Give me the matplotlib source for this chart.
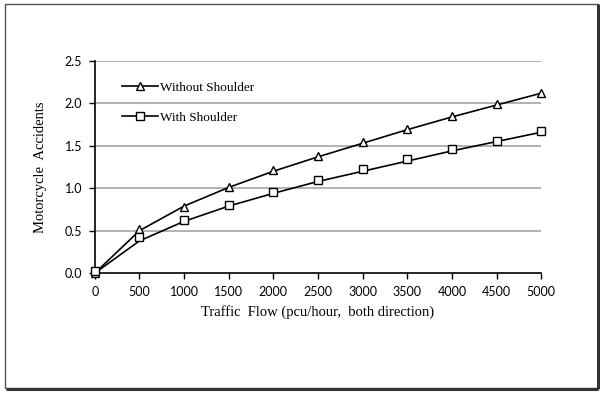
import matplotlib
matplotlib.use("Agg")
import matplotlib.pyplot as plt
from matplotlib.patches import Rectangle

flow = [0, 500, 1000, 1500, 2000, 2500, 3000, 3500, 4000, 4500, 5000]
without_pts = [0.0, 0.52, 0.78, 1.01, 1.21, 1.38, 1.54, 1.70, 1.85, 1.99, 2.12]
with_pts = [0.03, 0.42, 0.63, 0.80, 0.96, 1.10, 1.23, 1.35, 1.46, 1.56, 1.67]
without_fit = [0.0, 0.50, 0.79, 1.01, 1.20, 1.37, 1.53, 1.69, 1.84, 1.98, 2.12]
with_fit = [0.0, 0.38, 0.61, 0.79, 0.94, 1.08, 1.20, 1.32, 1.44, 1.55, 1.66]
yticks = [0.0, 0.5, 1.0, 1.5, 2.0, 2.5]
xticks = [0, 500, 1000, 1500, 2000, 2500, 3000, 3500, 4000, 4500, 5000]

fig = plt.figure(figsize=(6, 3.93), dpi=100)
fig.patch.set_facecolor("white")
# frame with shadow
fig.patches.append(Rectangle((0.008, 0.012), 0.988, 0.978, transform=fig.transFigure,
                             fill=False, edgecolor="#555555", linewidth=1.0))
fig.patches.append(Rectangle((0.010, 0.010), 0.986, 0.0, transform=fig.transFigure,
                             fill=False, edgecolor="#333333", linewidth=2.2))
fig.patches.append(Rectangle((0.996, 0.010), 0.0, 0.980, transform=fig.transFigure,
                             fill=False, edgecolor="#333333", linewidth=2.2))

ax = fig.add_axes([0.158, 0.305, 0.744, 0.540])
ax.set_xlim(0, 5000)
ax.set_ylim(0, 2.5)
ax.set_yticks(yticks)
ax.set_xticks(xticks)
ax.set_yticklabels([f"{v:.1f}" for v in yticks], fontfamily="Lato", fontsize=9)
ax.set_xticklabels([str(v) for v in xticks], fontfamily="Lato", fontsize=9)
for y in yticks[1:]:
    ax.axhline(y, color="#a6a6a6", linewidth=1.2, zorder=0)
for s in ["top", "right"]:
    ax.spines[s].set_visible(False)
ax.spines["left"].set_linewidth(1.2)
ax.spines["bottom"].set_linewidth(1.2)
ax.tick_params(direction="out", length=4, width=1.0, pad=5)

ax.plot(flow, without_fit, color="black", linewidth=1.2, zorder=2)
ax.plot(flow, with_fit, color="black", linewidth=1.2, zorder=2)
ax.plot(flow, without_pts, linestyle="none", marker="^", markersize=5.5, markerfacecolor="white",
        markeredgecolor="black", markeredgewidth=1.0, clip_on=False, zorder=3)
ax.plot(flow, with_pts, linestyle="none", marker="s", markersize=5.5, markerfacecolor="white",
        markeredgecolor="black", markeredgewidth=1.0, clip_on=False, zorder=3)

h1, = ax.plot([], [], color="black", linewidth=1.2, marker="^", markersize=5.5,
              markerfacecolor="white", markeredgecolor="black")
h2, = ax.plot([], [], color="black", linewidth=1.2, marker="s", markersize=5.5,
              markerfacecolor="white", markeredgecolor="black")
ax.legend([h1, h2], ["Without Shoulder", "With Shoulder"], loc="upper left",
          bbox_to_anchor=(0.035, 0.96), frameon=False, handlelength=2.7, handletextpad=0.15,
          labelspacing=1.35, prop={"family": "Liberation Serif", "size": 9.5})

ax.set_xlabel("Traffic  Flow (pcu/hour,  both direction)", fontfamily="Liberation Serif",
              fontsize=10.5, labelpad=5)
ax.set_ylabel("Motorcycle  Accidents", fontfamily="Liberation Serif", fontsize=10.5, labelpad=13)

fig.savefig("out.png", dpi=100)
